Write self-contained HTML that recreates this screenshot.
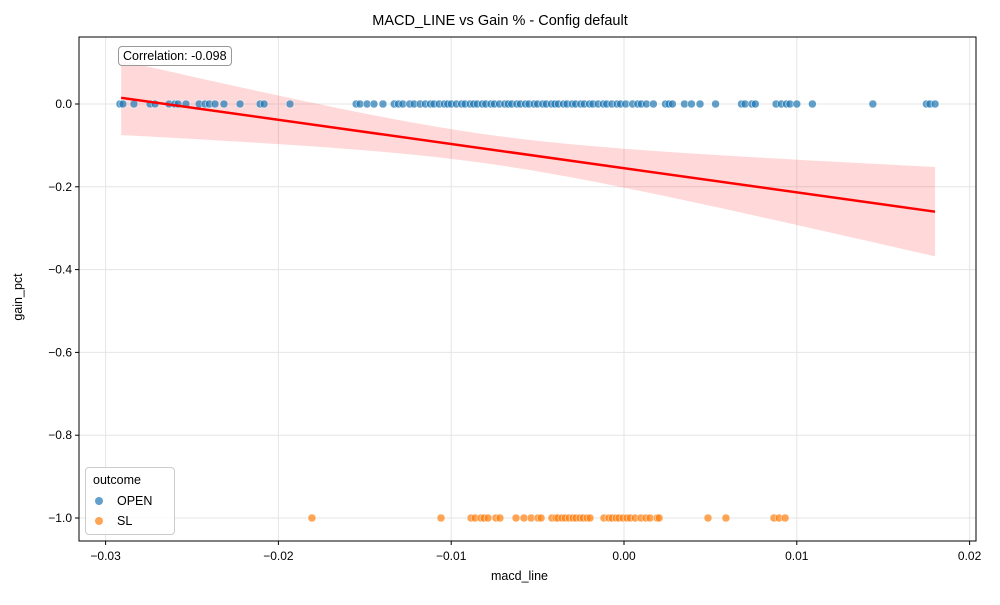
<!DOCTYPE html>
<html><head><meta charset="utf-8"><style>
body{margin:0;background:#fff;}
svg{font-family:"Liberation Sans",sans-serif;}
</style></head><body>
<svg id="chart" width="1000" height="600"></svg>
<script>
const openX=[-0.02917,-0.02900,-0.02836,-0.02743,-0.02714,-0.02633,-0.02600,-0.02581,-0.02535,-0.02459,-0.02425,-0.02400,-0.02367,-0.02315,-0.02222,-0.02106,-0.02083,-0.01933,
-0.01550,-0.01528,-0.01487,-0.01447,-0.01395,-0.01330,-0.01305,-0.01280,-0.01240,-0.01215,-0.01180,-0.01150,-0.01120,-0.01100,-0.01070,-0.01040,-0.01020,-0.01000,-0.00970,-0.00940,-0.00920,-0.00890,-0.00870,-0.00850,-0.00820,-0.00800,-0.00770,-0.00750,-0.00720,-0.00690,-0.00670,-0.00650,-0.00620,-0.00600,-0.00570,-0.00550,-0.00520,-0.00500,-0.00470,-0.00450,-0.00420,-0.00400,-0.00380,-0.00350,-0.00330,-0.00300,-0.00280,-0.00250,-0.00230,-0.00200,-0.00180,-0.00150,-0.00120,-0.00100,-0.00070,-0.00040,-0.00020,0.00010,0.00050,0.00080,0.00100,0.00130,0.00170,0.00240,0.00260,0.00280,0.00350,0.00390,0.00440,0.00530,0.00680,0.00700,0.00740,0.00760,0.00880,0.00910,0.00940,0.00960,0.01000,0.01090,0.01440,0.01750,0.01770,0.01800];
const slX=[-0.01806,-0.01059,-0.00885,-0.00862,-0.00828,-0.00810,-0.00787,-0.00741,-0.00718,-0.00625,-0.00579,-0.00538,-0.00498,-0.00480,-0.00417,-0.00394,-0.00382,-0.00359,-0.00341,-0.00318,-0.00295,-0.00278,-0.00255,-0.00237,-0.00214,-0.00197,-0.00116,-0.00087,-0.00069,-0.00046,-0.00029,-0.00006,0.00017,0.00035,0.00064,0.00098,0.00127,0.00150,0.00191,0.00203,0.00486,0.00590,0.00868,0.00897,0.00932];
const openY=0.0, slY=-1.0;
const fitSlope=[-5.84], fitIntercept=[-0.155];
const fitRange=[-0.0291,0.0180];
const xTicks=[-0.03,-0.02,-0.01,0.00,0.01,0.02];
const xTickLabels=["−0.03","−0.02","−0.01","0.00","0.01","0.02"];
const yTicks=[0,-0.2,-0.4,-0.6,-0.8,-1.0];
const yTickLabels=["0.0","−0.2","−0.4","−0.6","−0.8","−1.0"];
const L=79,R=976,T=37,B=541;
const X=v=>624+v*17280, Y=v=>104-v*414;
const svg=document.getElementById('chart');const NS='http://www.w3.org/2000/svg';
function mk(tag,attrs,parent){const e=document.createElementNS(NS,tag);for(const k in attrs)e.setAttribute(k,attrs[k]);(parent||svg).appendChild(e);return e;}
xTicks.forEach((t,i)=>{const g=mk('line',{x1:X(t),x2:X(t),y1:T,y2:B,stroke:'#e5e5e5','stroke-width':1});


mk('line',{x1:X(t),x2:X(t),y1:B,y2:B+4,stroke:'#000'});
const tx=mk('text',{x:X(t),y:B+19,'font-size':12,'text-anchor':'middle'});tx.textContent=xTickLabels[i];

});
yTicks.forEach((t,i)=>{const g=mk('line',{x1:L,x2:R,y1:Y(t),y2:Y(t),stroke:'#e5e5e5','stroke-width':1});


mk('line',{x1:L-4,x2:L,y1:Y(t),y2:Y(t),stroke:'#000'});
const tx=mk('text',{x:L-7,y:Y(t)+4,'font-size':12,'text-anchor':'end'});tx.textContent=yTickLabels[i];

});
const s=fitSlope[0],b=fitIntercept[0];const xm=-0.008;
const half=x=>Math.sqrt(0.035*0.035+((x-xm)/0.0211)**2*(0.09*0.09-0.035*0.035));
let up=[],lo=[];for(let k=0;k<=60;k++){const x=fitRange[0]+(fitRange[1]-fitRange[0])*k/60;const y=s*x+b;up.push(X(x)+','+Y(y+half(x)));lo.unshift(X(x)+','+Y(y-half(x)));}
const band=mk('polygon',{points:up.concat(lo).join(' '),fill:'#ff0000','fill-opacity':0.15});


openX.forEach(v=>{const c=mk('circle',{cx:X(v),cy:Y(openY),r:4,fill:'#1f77b4','fill-opacity':0.7,stroke:'#fff','stroke-width':0.5});

});
slX.forEach(v=>{const c=mk('circle',{cx:X(v),cy:Y(slY),r:4,fill:'#ff7f0e','fill-opacity':0.7,stroke:'#fff','stroke-width':0.5});

});
const fl=mk('line',{x1:X(fitRange[0]),y1:Y(s*fitRange[0]+b),x2:X(fitRange[1]),y2:Y(s*fitRange[1]+b),stroke:'#ff0000','stroke-width':2.5});


const fr=mk('rect',{x:L,y:T,width:R-L,height:B-T,fill:'none',stroke:'#000','stroke-width':1});


</script>
<div style="position:absolute;left:0;top:0;width:1000px;height:600px;pointer-events:none;font-family:'Liberation Sans',sans-serif;">
<div style="position:absolute;top:13px;left:0;width:1000px;text-align:center;font-size:14.5px;">MACD_LINE vs Gain % - Config default</div>
<div style="position:absolute;top:569px;left:491px;font-size:12.5px;">macd_line</div>
<div style="position:absolute;top:290px;left:-12px;font-size:12.5px;transform:rotate(-90deg);width:60px;text-align:center;">gain_pct</div>
<div style="position:absolute;left:118px;top:46px;padding:2px 4px;border:1px solid #999;border-radius:4px;background:rgba(255,255,255,0.8);font-size:12.5px;">Correlation: -0.098</div>
<div style="position:absolute;left:85px;top:467px;width:88px;height:66px;border:1px solid #ccc;border-radius:4px;background:rgba(255,255,255,0.85);font-size:12.5px;">
<div style="position:absolute;left:7px;top:5px;">outcome</div>
<div style="position:absolute;left:9px;top:26px;"><span style="display:inline-block;width:8px;height:8px;border-radius:50%;background:#1f77b4;opacity:.7;margin-right:14px;"></span>OPEN</div>
<div style="position:absolute;left:9px;top:46px;"><span style="display:inline-block;width:8px;height:8px;border-radius:50%;background:#ff7f0e;opacity:.7;margin-right:14px;"></span>SL</div>
</div>
</div>
</body></html>
